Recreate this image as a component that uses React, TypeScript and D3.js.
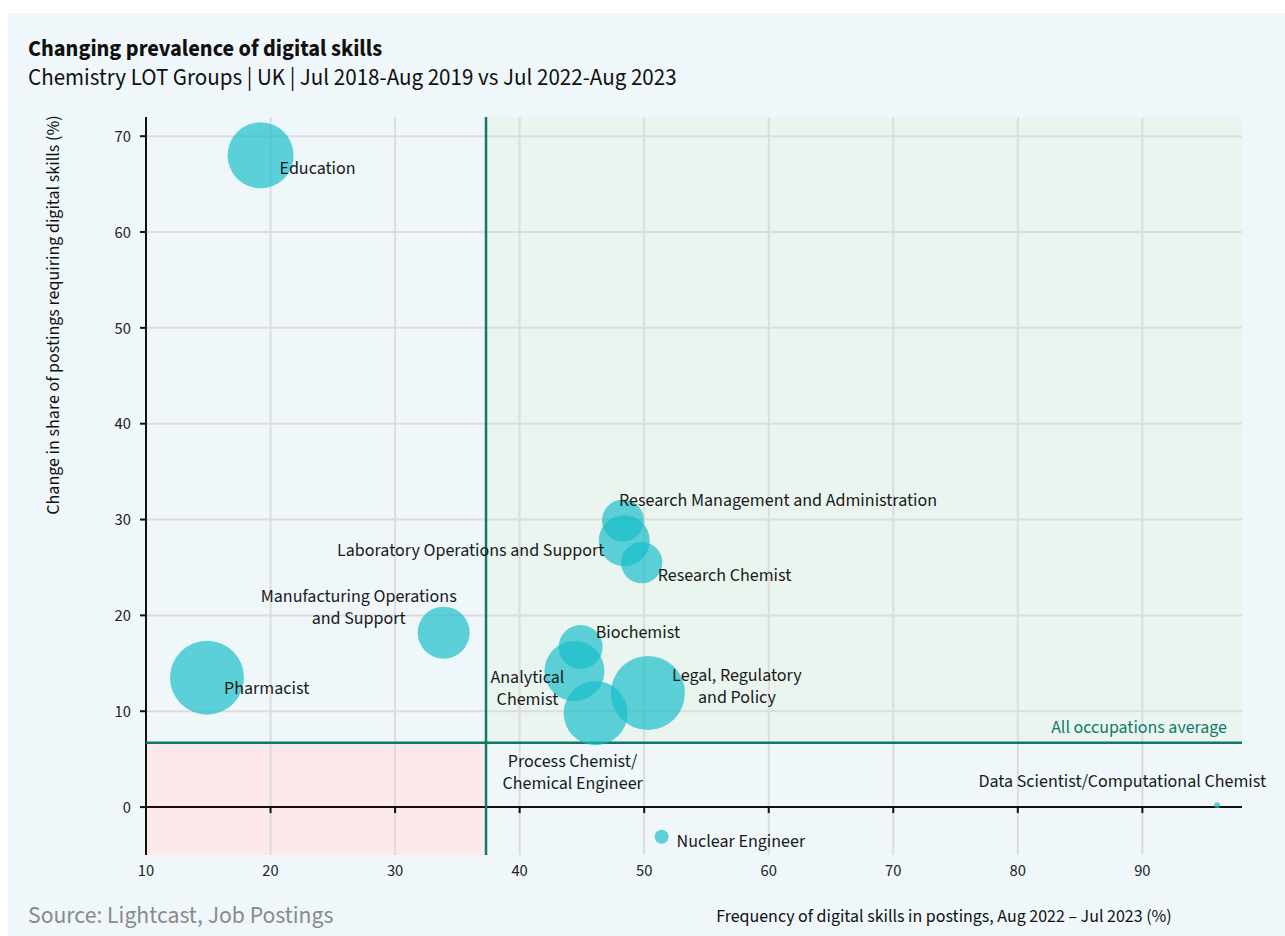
import React from "react";
import * as d3 from "d3";

// ---- data ----
const occupations = [
  "Education",
  "Pharmacist",
  "Manufacturing Operations and Support",
  "Research Management and Administration",
  "Laboratory Operations and Support",
  "Research Chemist",
  "Biochemist",
  "Analytical Chemist",
  "Process Chemist/Chemical Engineer",
  "Legal, Regulatory and Policy",
  "Nuclear Engineer",
  "Data Scientist/Computational Chemist",
];
const frequency2023 = [19.2, 14.9, 33.9, 48.3, 48.4, 49.8, 44.9, 44.4, 46.1, 50.3, 51.4, 96.0];
const changeInShare = [68.0, 13.5, 18.2, 29.9, 27.8, 25.5, 16.7, 14.2, 9.8, 11.9, -3.1, 0.2];
const postingsSize = [1089, 1369, 676, 441, 650, 428, 484, 900, 1024, 1369, 49, 9];

const avgFrequency = 37.3;
const avgChange = 6.7;

const xTicks = [10, 20, 30, 40, 50, 60, 70, 80, 90];
const yTicks = [0, 10, 20, 30, 40, 50, 60, 70];

const titleText = "Changing prevalence of digital skills";
const subtitleText = "Chemistry LOT Groups | UK | Jul 2018-Aug 2019 vs Jul 2022-Aug 2023";
const xAxisTitle = "Frequency of digital skills in postings, Aug 2022 \u2013 Jul 2023 (%)";
const yAxisTitle = "Change in share of postings requiring digital skills (%)";
const sourceText = "Source: Lightcast, Job Postings";
const avgLabel = "All occupations average";

// label layout (lines, anchor, offset from bubble centre in px)
const labelLayout: { lines: string[]; anchor: string; dx: number; dy: number }[] = [
  { lines: ["Education"], anchor: "start", dx: 19, dy: 12 },
  { lines: ["Pharmacist"], anchor: "start", dx: 17, dy: 10 },
  { lines: ["Manufacturing Operations", "and Support"], anchor: "middle", dx: -85, dy: -26 },
  { lines: ["Research Management and Administration"], anchor: "start", dx: -4, dy: -21 },
  { lines: ["Laboratory Operations and Support"], anchor: "end", dx: -20, dy: 9 },
  { lines: ["Research Chemist"], anchor: "start", dx: 16, dy: 12 },
  { lines: ["Biochemist"], anchor: "start", dx: 15, dy: -15 },
  { lines: ["Analytical", "Chemist"], anchor: "middle", dx: -47, dy: 17 },
  { lines: ["Process Chemist/", "Chemical Engineer"], anchor: "middle", dx: -23, dy: 59 },
  { lines: ["Legal, Regulatory", "and Policy"], anchor: "middle", dx: 89, dy: -7 },
  { lines: ["Nuclear Engineer"], anchor: "start", dx: 15, dy: 4 },
  { lines: ["Data Scientist/Computational Chemist"], anchor: "end", dx: 49, dy: -24 },
];

const W = 1285;
const H = 936;
const margin = { left: 146, right: 43, top: 117, bottom: 81 };
const FONT = "'Source Sans Pro', 'Source Sans 3', Lato, 'Noto Sans', sans-serif";

export default function App() {
  const x = d3.scaleLinear().domain([10, 98]).range([margin.left, W - margin.right]);
  const y = d3.scaleLinear().domain([-5, 72]).range([H - margin.bottom, margin.top]);
  const r = d3.scaleSqrt().domain([0, 1369]).range([0, 37]);

  const x0 = x.range()[0];
  const x1 = x.range()[1];
  const yTop = y.range()[1];
  const yBot = y.range()[0];
  const ax = x(avgFrequency);
  const ay = y(avgChange);

  const data = occupations.map((name, i) => ({
    name,
    fx: frequency2023[i],
    cy: changeInShare[i],
    size: postingsSize[i],
    label: labelLayout[i],
  }));

  const lineH = 22;

  return (
    <div style={{ position: "absolute", left: 0, top: 0, width: W, height: H, background: "#fff" }}>
      <svg width={W} height={H} style={{ display: "block", fontFamily: FONT }}>
        <rect x={8} y={13} width={W - 8} height={H - 13} fill="#eff7fa" />
        <text x={28} y={56} fontSize={22.4} fontWeight={700} fill="#111">{titleText}</text>
        <text x={28} y={85} fontSize={23} fill="#111">{subtitleText}</text>

        {/* quadrant shading */}
        <rect x={ax} y={yTop} width={x1 - ax} height={ay - yTop} fill="#ebf5ef" />
        <rect x={x0} y={ay} width={ax - x0} height={yBot - ay} fill="#fde8ec" />

        {/* grid */}
        {xTicks.filter((t) => t !== 10).map((t) => (
          <line key={"gx" + t} x1={x(t)} x2={x(t)} y1={yTop} y2={yBot} stroke="#dcdcdc" strokeWidth={2} />
        ))}
        {yTicks.filter((t) => t !== 0).map((t) => (
          <line key={"gy" + t} x1={x0} x2={x1} y1={y(t)} y2={y(t)} stroke="#dcdcdc" strokeWidth={2} />
        ))}

        {/* axes */}
        <line x1={x0} x2={x1} y1={y(0)} y2={y(0)} stroke="#111" strokeWidth={2} />
        <line x1={x0} x2={x0} y1={yTop} y2={yBot} stroke="#111" strokeWidth={2} />
        {xTicks.map((t) => (
          <g key={"tx" + t}>
            <line x1={x(t)} x2={x(t)} y1={y(0)} y2={y(0) + 6} stroke="#111" strokeWidth={2} />
            <text x={x(t)} y={yBot + 21} fontSize={16.5} textAnchor="middle" fill="#222">{t}</text>
          </g>
        ))}
        {yTicks.map((t) => (
          <g key={"ty" + t}>
            <line x1={x0 - 6} x2={x0} y1={y(t)} y2={y(t)} stroke="#111" strokeWidth={2} />
            <text x={x0 - 15} y={y(t)} dy="0.35em" fontSize={16.5} textAnchor="end" fill="#222">{t}</text>
          </g>
        ))}

        {/* average lines */}
        <line x1={ax} x2={ax} y1={yTop} y2={yBot} stroke="#0f7a6a" strokeWidth={2.5} />
        <line x1={x0} x2={x1} y1={ay} y2={ay} stroke="#0f7a6a" strokeWidth={2.5} />
        <text x={x1 - 15} y={ay - 10} fontSize={17.9} textAnchor="end" fill="#0f7a6a">{avgLabel}</text>

        {/* bubbles */}
        {data.map((d) => (
          <circle key={d.name} cx={x(d.fx)} cy={y(d.cy)} r={r(d.size)} fill="#14bdc8" fillOpacity={0.68} />
        ))}

        {/* labels */}
        {data.map((d) => {
          const n = d.label.lines.length;
          return (
            <text
              key={"l" + d.name}
              x={x(d.fx) + d.label.dx}
              y={y(d.cy) + d.label.dy - ((n - 1) * lineH) / 2}
              fontSize={18}
              textAnchor={d.label.anchor}
              fill="#1a1a1a"
            >
              {d.label.lines.map((ln, j) => (
                <tspan key={j} x={x(d.fx) + d.label.dx} dy={j === 0 ? "0.35em" : lineH}>{ln}</tspan>
              ))}
            </text>
          );
        })}

        {/* axis titles */}
        <text
          transform={`translate(59, 315) rotate(-90)`}
          fontSize={18}
          textAnchor="middle"
          fill="#111"
        >
          {yAxisTitle}
        </text>
        <text x={944} y={922} fontSize={17.9} textAnchor="middle" fill="#111">{xAxisTitle}</text>
        <text x={28} y={923} fontSize={23.7} fill="#8a8a8a">{sourceText}</text>
      </svg>
    </div>
  );
}
